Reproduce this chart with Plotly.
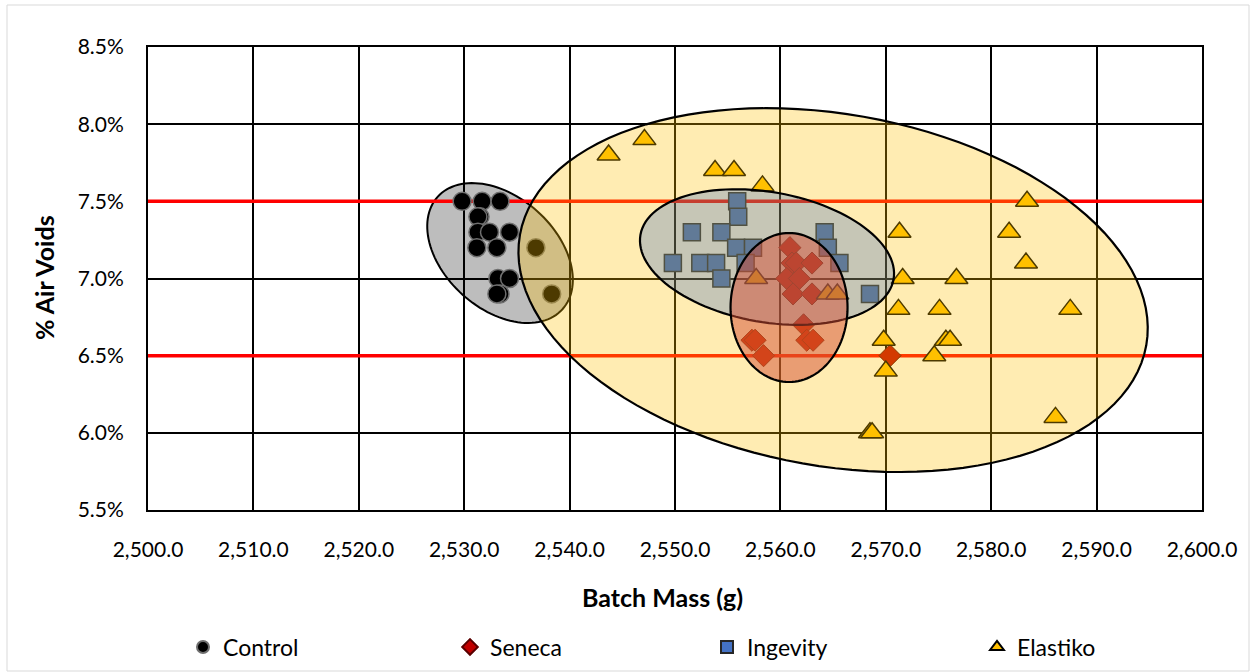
import math
import plotly.graph_objects as go

# ---------------- data ----------------
control_x = [2529.8, 2531.7, 2533.4, 2531.5, 2531.3, 2531.3, 2532.4, 2534.3,
             2531.2, 2533.1, 2533.2, 2534.3, 2533.4, 2533.1, 2536.8, 2538.3]
control_y = [7.5, 7.5, 7.5, 7.4, 7.4, 7.3, 7.3, 7.3,
             7.2, 7.2, 7.0, 7.0, 6.9, 6.9, 7.2, 6.9]

seneca_x = [2560.9, 2561.1, 2561.5, 2563.0, 2560.6, 2561.8, 2561.2, 2563.0,
            2562.2, 2557.3, 2557.6, 2562.5, 2563.1, 2558.4, 2570.4]
seneca_y = [7.2, 7.1, 7.1, 7.1, 7.0, 7.0, 6.9, 6.9,
            6.7, 6.6, 6.6, 6.6, 6.6, 6.5, 6.5]

ingevity_x = [2555.9, 2556.0, 2551.6, 2554.4, 2564.2, 2555.8, 2557.4, 2564.5,
              2549.8, 2552.4, 2553.9, 2556.7, 2565.6, 2554.4, 2568.5]
ingevity_y = [7.5, 7.4, 7.3, 7.3, 7.3, 7.2, 7.2, 7.2,
              7.1, 7.1, 7.1, 7.1, 7.1, 7.0, 6.9]

elastiko_x = [2543.7, 2547.1, 2553.8, 2555.6, 2558.3, 2557.7, 2564.5, 2565.4,
              2583.4, 2571.3, 2581.7, 2583.3, 2571.6, 2576.7, 2571.2, 2575.1,
              2587.5, 2569.8, 2575.7, 2576.1, 2574.6, 2570.0, 2586.1, 2568.5,
              2568.7]
elastiko_y = [7.8, 7.9, 7.7, 7.7, 7.6, 7.0, 6.9, 6.9,
              7.5, 7.3, 7.3, 7.1, 7.0, 7.0, 6.8, 6.8,
              6.8, 6.6, 6.6, 6.6, 6.5, 6.4, 6.1, 6.0,
              6.0]

spec_limits = [6.5, 7.5]
x_range = [2500, 2600]
y_range = [5.5, 8.5]
x_ticks = [2500, 2510, 2520, 2530, 2540, 2550, 2560, 2570, 2580, 2590, 2600]
y_ticks = [5.5, 6.0, 6.5, 7.0, 7.5, 8.0, 8.5]
y_tick_text = [f"{v:.1f}%" for v in y_ticks]

# ellipse annotations: centre (data), semi-axes (px), rotation (deg, clockwise on screen)
ell_control = dict(cx=2533.4, cy=7.165, a=84, b=56, ang=42)
ell_elastiko = dict(cx=2565.0, cy=6.925, a=318, b=176, ang=10)
ell_ingevity = dict(cx=2558.73, cy=7.139, a=128.5, b=65, ang=10)
ell_seneca = dict(cx=2560.82, cy=6.812, a=58.5, b=74.5, ang=0)

# ---------------- layout geometry ----------------
W, H = 1250, 672
ML, MR, MT, MB = 148, 48, 47, 162
PW, PH = W - ML - MR, H - MT - MB
sx = PW / (x_range[1] - x_range[0])
sy = PH / (y_range[1] - y_range[0])

FONT = "Lato"


def px_x(p):
    return (p - ML) / PW


def px_y(p):
    return (H - MB - p) / PH


def ellipse_path(e, n=120):
    th = math.radians(e["ang"])
    pts = []
    for i in range(n):
        t = 2 * math.pi * i / n
        dx = e["a"] * math.cos(t) * math.cos(th) - e["b"] * math.sin(t) * math.sin(th)
        dy = e["a"] * math.cos(t) * math.sin(th) + e["b"] * math.sin(t) * math.cos(th)
        pts.append((e["cx"] + dx / sx, e["cy"] - dy / sy))
    return "M " + " L ".join(f"{x:.4f},{y:.5f}" for x, y in pts) + " Z"


fig = go.Figure()

for lim in spec_limits:
    fig.add_trace(go.Scatter(x=x_range, y=[lim, lim], mode="lines",
                             line=dict(color="#FF0000", width=3.5),
                             showlegend=False, hoverinfo="skip"))

fig.add_trace(go.Scatter(x=control_x, y=control_y, mode="markers", name="Control",
                         legend="legend",
                         marker=dict(symbol="circle", size=18, color="#000000",
                                     line=dict(color="#6f6f6f", width=1.5))))
fig.add_trace(go.Scatter(x=seneca_x, y=seneca_y, mode="markers", name="Seneca",
                         legend="legend2",
                         marker=dict(symbol="diamond", size=17, color="#C00000",
                                     line=dict(color="#5a0000", width=1))))
fig.add_trace(go.Scatter(x=ingevity_x, y=ingevity_y, mode="markers", name="Ingevity",
                         legend="legend3",
                         marker=dict(symbol="square", size=17, color="#4472C4",
                                     line=dict(color="#262626", width=1.5))))
fig.add_trace(go.Scatter(x=elastiko_x, y=elastiko_y, mode="markers", name="Elastiko",
                         legend="legend4",
                         marker=dict(symbol="triangle-up", size=20, color="#FFC000",
                                     line=dict(color="#000000", width=1.5))))

shapes = [
    dict(type="path", path=ellipse_path(ell_control), xref="x", yref="y", layer="below",
         fillcolor="#BDBDBD", line=dict(color="black", width=2)),
    dict(type="path", path=ellipse_path(ell_elastiko), xref="x", yref="y", layer="above",
         fillcolor="rgba(255,192,0,0.3)", line=dict(color="black", width=2.2)),
    dict(type="path", path=ellipse_path(ell_ingevity), xref="x", yref="y", layer="above",
         fillcolor="rgba(10,75,200,0.23)", line=dict(color="black", width=2.2)),
    dict(type="path", path=ellipse_path(ell_seneca), xref="x", yref="y", layer="above",
         fillcolor="rgba(212,78,52,0.5)", line=dict(color="black", width=2.2)),
    # outer chart border
    dict(type="rect", xref="paper", yref="paper",
         x0=px_x(7), x1=px_x(1249), y0=px_y(671), y1=px_y(5),
         line=dict(color="#D9D9D9", width=1), fillcolor="rgba(0,0,0,0)", layer="below"),
]


def leg(marker_px):
    return dict(orientation="h", x=px_x(marker_px - 20), xanchor="left",
                y=px_y(647), yanchor="middle",
                font=dict(family=FONT, size=23, color="black"),
                bgcolor="rgba(0,0,0,0)", itemsizing="constant")


fig.update_layout(
    width=W, height=H,
    margin=dict(l=ML, r=MR, t=MT, b=MB, autoexpand=False),
    paper_bgcolor="white", plot_bgcolor="white",
    font=dict(family=FONT, size=21, color="black"),
    shapes=shapes,
    showlegend=True,
    legend=leg(203), legend2=leg(470), legend3=leg(727), legend4=leg(997),
    annotations=[
        dict(text="<b>Batch Mass (g)</b>", xref="paper", yref="paper",
             x=px_x(662), y=px_y(597), showarrow=False,
             xanchor="center", yanchor="middle", font=dict(size=25)),
        dict(text="<b>% Air Voids</b>", xref="paper", yref="paper",
             x=px_x(44), y=px_y(278), showarrow=False, textangle=-90,
             xanchor="center", yanchor="middle", font=dict(size=25)),
    ],
)

fig.update_xaxes(range=x_range, tickvals=x_ticks, tickformat=",.1f",
                 showgrid=True, gridcolor="black", gridwidth=1.5,
                 showline=True, linecolor="black", linewidth=2, mirror=True,
                 zeroline=False, ticks="", ticklabelstandoff=20)
fig.update_yaxes(range=y_range, tickvals=y_ticks, ticktext=y_tick_text,
                 showgrid=True, gridcolor="black", gridwidth=1.5,
                 showline=True, linecolor="black", linewidth=2, mirror=True,
                 zeroline=False, ticks="", ticklabelstandoff=18)

fig.write_html("out.html", config={"displayModeBar": False},
               post_script="document.body.style.margin='0';document.body.style.overflow='hidden';")
